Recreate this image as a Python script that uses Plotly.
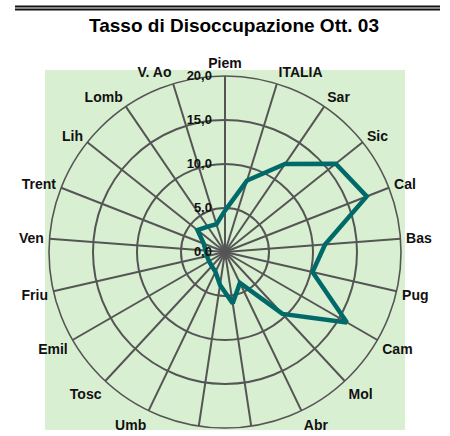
import plotly.graph_objects as go

categories = ["Piem", "ITALIA", "Sar", "Sic", "Cal", "Bas", "Pug", "Cam", "Mol", "Abr",
              "Laz", "Mar", "Umb", "Tosc", "Emil", "Friu", "Ven", "Trent", "Lih", "Lomb", "V. Ao"]
values = [4.7, 8.5, 12.1, 16.1, 17.3, 11.4, 10.2, 16.0, 9.6, 3.9,
          5.9, 3.8, 2.5, 2.2, 2.1, 2.1, 2.2, 2.6, 4.0, 3.5, 3.3]
radial_ticks = [0, 5, 10, 15, 20]
radial_labels = ["0,0", "5,0", "10,0", "15,0", "20,0"]
title_text = "Tasso di Disoccupazione Ott. 03"

W, H = 450, 436
def px(x):
    return x / W
def py(y):
    return (H - y) / H

grid = "#555555"
font_fam = "Liberation Sans, Arial, sans-serif"

fig = go.Figure()
fig.add_trace(go.Scatterpolar(
    r=values + values[:1],
    theta=categories + categories[:1],
    mode="lines",
    line=dict(color="#006a6a", width=4.5),
    hoverinfo="skip",
    showlegend=False,
))

fig.update_layout(
    width=W, height=H,
    margin=dict(l=0, r=0, t=0, b=0),
    paper_bgcolor="white",
    showlegend=False,
    polar=dict(
        domain=dict(x=[px(49), px(401)], y=[py(428), py(76)]),
        bgcolor="rgba(0,0,0,0)",
        angularaxis=dict(
            type="category",
            categoryarray=categories,
            direction="clockwise",
            rotation=90,
            showgrid=True, gridcolor=grid, gridwidth=1.5,
            showline=True, linecolor=grid, linewidth=1.6,
            ticks="outside", ticklen=2, tickcolor="rgba(0,0,0,0)",
            tickfont=dict(family=font_fam, size=14, color="#111111", weight="bold"),
        ),
        radialaxis=dict(
            range=[0, 20],
            tickvals=radial_ticks,
            ticktext=radial_labels,
            angle=90,
            tickangle=90,
            side="counterclockwise",
            showline=False,
            ticks="outside", ticklen=8, tickcolor="rgba(0,0,0,0)",
            showgrid=True, gridcolor=grid, gridwidth=1.5,
            tickfont=dict(family=font_fam, size=13, color="#111111", weight="bold"),
        ),
    ),
    shapes=[
        dict(type="rect", xref="paper", yref="paper", layer="below",
             x0=px(45), x1=px(405), y0=py(430), y1=py(70),
             fillcolor="#d9efd1", line=dict(width=0)),
        dict(type="line", xref="paper", yref="paper",
             x0=px(15), x1=px(440), y0=py(6.5), y1=py(6.5),
             line=dict(color="#111111", width=2)),
        dict(type="line", xref="paper", yref="paper",
             x0=px(15), x1=px(440), y0=py(9.5), y1=py(9.5),
             line=dict(color="#111111", width=2)),
    ],
    annotations=[
        dict(text="<b>" + title_text + "</b>", xref="paper", yref="paper",
             x=px(234), y=py(25), xanchor="center", yanchor="middle",
             showarrow=False, font=dict(family=font_fam, size=19, color="#000000")),
    ],
)

fig.write_html("out.html", config={"displayModeBar": False},
               post_script="document.body.style.margin='0';")
